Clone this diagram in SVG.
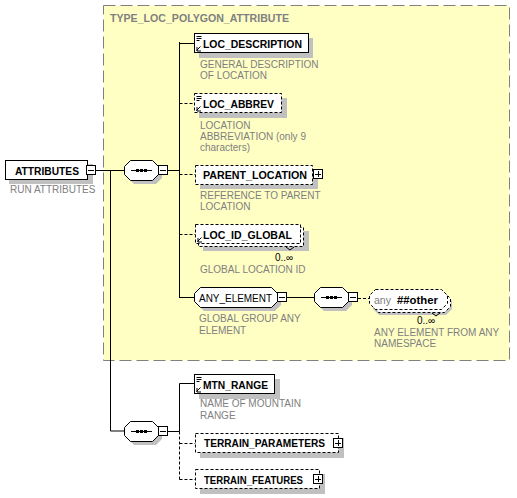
<svg xmlns="http://www.w3.org/2000/svg" width="517" height="498" viewBox="0 0 517 498">
<style>
.nm{font-family:"Liberation Sans",Arial,sans-serif;font-size:11px;font-weight:bold;fill:#000}
.nr{font-family:"Liberation Sans",Arial,sans-serif;font-size:11px;fill:#000}
.ds{font-family:"Liberation Sans",Arial,sans-serif;font-size:10px;fill:#808080}
.oc{font-family:"Liberation Sans",Arial,sans-serif;font-size:10px;fill:#000}
.box{fill:#fff;stroke:#000;stroke-width:1}
.opt{fill:#fff;stroke:#000;stroke-width:1;stroke-dasharray:3,2}
.sh{fill:#c0c0c0}
.ln{stroke:#000;stroke-width:1;fill:none}
.dl{stroke:#000;stroke-width:1;fill:none;stroke-dasharray:3,2}
.pm{fill:#fff;stroke:#000;stroke-width:1}
</style>
<defs>
<g id="icon">
<path d="M1.5 2.5h5M1.5 4.5h5M1.5 6.5h3" stroke="#000" stroke-width="1"/>
</g>
<g id="arr">
<path d="M1.5 16.5l4-4M2 13v4h4" stroke="#000" stroke-width="1" fill="none"/>
</g>
<g id="seq">
<polygon class="sh" points="10,4 32,4 38,10 38,18 32,24 10,24 4,18 4,10"/>
<polygon class="box" points="6.5,0.5 28.5,0.5 34.5,6.5 34.5,14.5 28.5,20.5 6.5,20.5 0.5,14.5 0.5,6.5"/>
<path d="M7 10.5h21" stroke="#000"/>
<rect x="12" y="9" width="3" height="3"/><rect x="16" y="9" width="3" height="3"/><rect x="20" y="9" width="3" height="3"/>
</g>
<g id="minus"><rect class="pm" x="0.5" y="0.5" width="9" height="9"/><path d="M2 5.5h6" stroke="#000"/></g>
<g id="plus"><rect class="pm" x="0.5" y="0.5" width="9" height="9"/><path d="M2 5.5h6M5.5 2v6" stroke="#000"/></g>
</defs>

<g id="type-box">
<rect x="103.5" y="5.5" width="406" height="355" fill="#ffffc4" stroke="#808080" stroke-dasharray="12,5"/>
<text x="110" y="22" font-family="Liberation Sans,Arial,sans-serif" font-size="11" font-weight="bold" fill="#808080" textLength="179" lengthAdjust="spacingAndGlyphs">TYPE_LOC_POLYGON_ATTRIBUTE</text>
</g>

<g id="connectors">
<path class="ln" d="M96 170.5h28M168 170.5h11.5M110.5 170v261h14M179.5 42v256M179.5 43.5h15M179.5 297.5h15M287 297.5h27M168 431.5h11.5"/>
<path class="dl" d="M179.5 103.5h15M179.5 174.5h16M179.5 234.5h16M358 298.5h11"/>
<path class="ln" d="M179.5 383.5v48M179.5 383.5h15"/>
<path class="dl" d="M179.5 431.5v48M179.5 443.5h16M179.5 479.5h16"/>
</g>

<g id="attributes">
<rect class="sh" x="9" y="164" width="84" height="20"/>
<rect class="box" x="5.5" y="160.5" width="82" height="19"/>
<text class="nm" x="15" y="175" textLength="64" lengthAdjust="spacingAndGlyphs">ATTRIBUTES</text>
<use href="#minus" x="86" y="165"/>
<text class="ds" x="10" y="193">RUN ATTRIBUTES</text>
</g>

<g id="seq1"><use href="#seq" x="124" y="160"/><use href="#minus" x="158" y="165"/></g>

<g id="loc-description">
<rect class="sh" x="199" y="38" width="114" height="20"/>
<rect class="box" x="194.5" y="33.5" width="114" height="19"/>
<use href="#icon" x="195" y="34"/><use href="#arr" x="195" y="34"/>
<text class="nm" x="203" y="48" textLength="99" lengthAdjust="spacingAndGlyphs">LOC_DESCRIPTION</text>
<text class="ds" x="200" y="68">GENERAL DESCRIPTION</text>
<text class="ds" x="200" y="79">OF LOCATION</text>
</g>

<g id="loc-abbrev">
<rect class="sh" x="199" y="98" width="88" height="20"/>
<rect class="opt" x="194.5" y="93.5" width="87" height="19"/>
<use href="#icon" x="195" y="94"/><use href="#arr" x="195" y="94"/>
<text class="nm" x="203" y="108" textLength="71" lengthAdjust="spacingAndGlyphs">LOC_ABBREV</text>
<text class="ds" x="200" y="129">LOCATION</text>
<text class="ds" x="200" y="140">ABBREVIATION (only 9</text>
<text class="ds" x="200" y="151">characters)</text>
</g>

<g id="parent-location">
<rect class="sh" x="200" y="169" width="118" height="20"/>
<rect class="opt" x="195.5" y="165.5" width="117" height="19"/>
<text class="nm" x="203" y="179" textLength="104" lengthAdjust="spacingAndGlyphs">PARENT_LOCATION</text>
<use href="#plus" x="313" y="169"/>
<text class="ds" x="200" y="199">REFERENCE TO PARENT</text>
<text class="ds" x="200" y="210">LOCATION</text>
</g>

<g id="loc-id-global">
<rect class="sh" x="203" y="231" width="106" height="20"/>
<rect class="opt" x="198.5" y="227.5" width="105" height="19"/>
<rect class="opt" x="195.5" y="224.5" width="105" height="19"/>
<use href="#arr" x="196" y="225"/>
<path class="ln" d="M286 247l4 3 4-3"/>
<text class="nm" x="203" y="239" textLength="89" lengthAdjust="spacingAndGlyphs">LOC_ID_GLOBAL</text>
<text class="oc" x="275" y="261">0..∞</text>
<text class="ds" x="200" y="273">GLOBAL LOCATION ID</text>
</g>

<g id="any-element">
<polygon class="sh" points="204,291 275,291 281,297 281,305 275,311 204,311 198,305 198,297"/>
<polygon class="box" points="200.5,287.5 271.5,287.5 277.5,293.5 277.5,301.5 271.5,307.5 200.5,307.5 194.5,301.5 194.5,293.5"/>
<text class="nr" x="199" y="302" textLength="73" lengthAdjust="spacingAndGlyphs">ANY_ELEMENT</text>
<use href="#minus" x="277" y="292"/>
<text class="ds" x="199" y="322">GLOBAL GROUP ANY</text>
<text class="ds" x="199" y="334">ELEMENT</text>
</g>

<g id="seq2"><use href="#seq" x="314" y="287"/><use href="#minus" x="348" y="292"/></g>

<g id="any-other">
<polygon class="sh" points="379,295 446,295 452,301 452,309 446,315 379,315 373,309 373,301"/>
<polygon class="opt" points="378.5,292.5 444.5,292.5 450.5,298.5 450.5,306.5 444.5,312.5 378.5,312.5 372.5,306.5 372.5,298.5"/>
<polygon class="opt" points="375.5,289.5 441.5,289.5 447.5,295.5 447.5,303.5 441.5,309.5 375.5,309.5 369.5,303.5 369.5,295.5"/>
<path class="ln" d="M432 313l4 3 4-3"/>
<text x="374" y="304" font-family="Liberation Sans,Arial,sans-serif" font-size="11" fill="#808080" textLength="17" lengthAdjust="spacingAndGlyphs">any</text>
<text class="nm" x="397" y="304" textLength="41" lengthAdjust="spacingAndGlyphs">##other</text>
<text class="oc" x="417" y="324">0..∞</text>
<text class="ds" x="374" y="336">ANY ELEMENT FROM ANY</text>
<text class="ds" x="374" y="347">NAMESPACE</text>
</g>

<g id="seq3"><use href="#seq" x="124" y="421"/><use href="#minus" x="158" y="426"/></g>

<g id="mtn-range">
<rect class="sh" x="199" y="379" width="81" height="20"/>
<rect class="box" x="194.5" y="374.5" width="80" height="19"/>
<use href="#icon" x="195" y="375"/><use href="#arr" x="195" y="375"/>
<text class="nm" x="203" y="389" textLength="65" lengthAdjust="spacingAndGlyphs">MTN_RANGE</text>
<text class="ds" x="200" y="407">NAME OF MOUNTAIN</text>
<text class="ds" x="200" y="419">RANGE</text>
</g>

<g id="terrain-parameters">
<rect class="sh" x="200" y="438" width="144" height="20"/>
<rect class="opt" x="195.5" y="433.5" width="143" height="19"/>
<text class="nm" x="204" y="447" textLength="121" lengthAdjust="spacingAndGlyphs">TERRAIN_PARAMETERS</text>
<use href="#plus" x="333" y="438"/>
</g>

<g id="terrain-features">
<rect class="sh" x="200" y="474" width="125" height="20"/>
<rect class="opt" x="195.5" y="469.5" width="124" height="19"/>
<text class="nm" x="204" y="484" textLength="99" lengthAdjust="spacingAndGlyphs">TERRAIN_FEATURES</text>
<use href="#plus" x="313" y="474"/>
</g>
</svg>
